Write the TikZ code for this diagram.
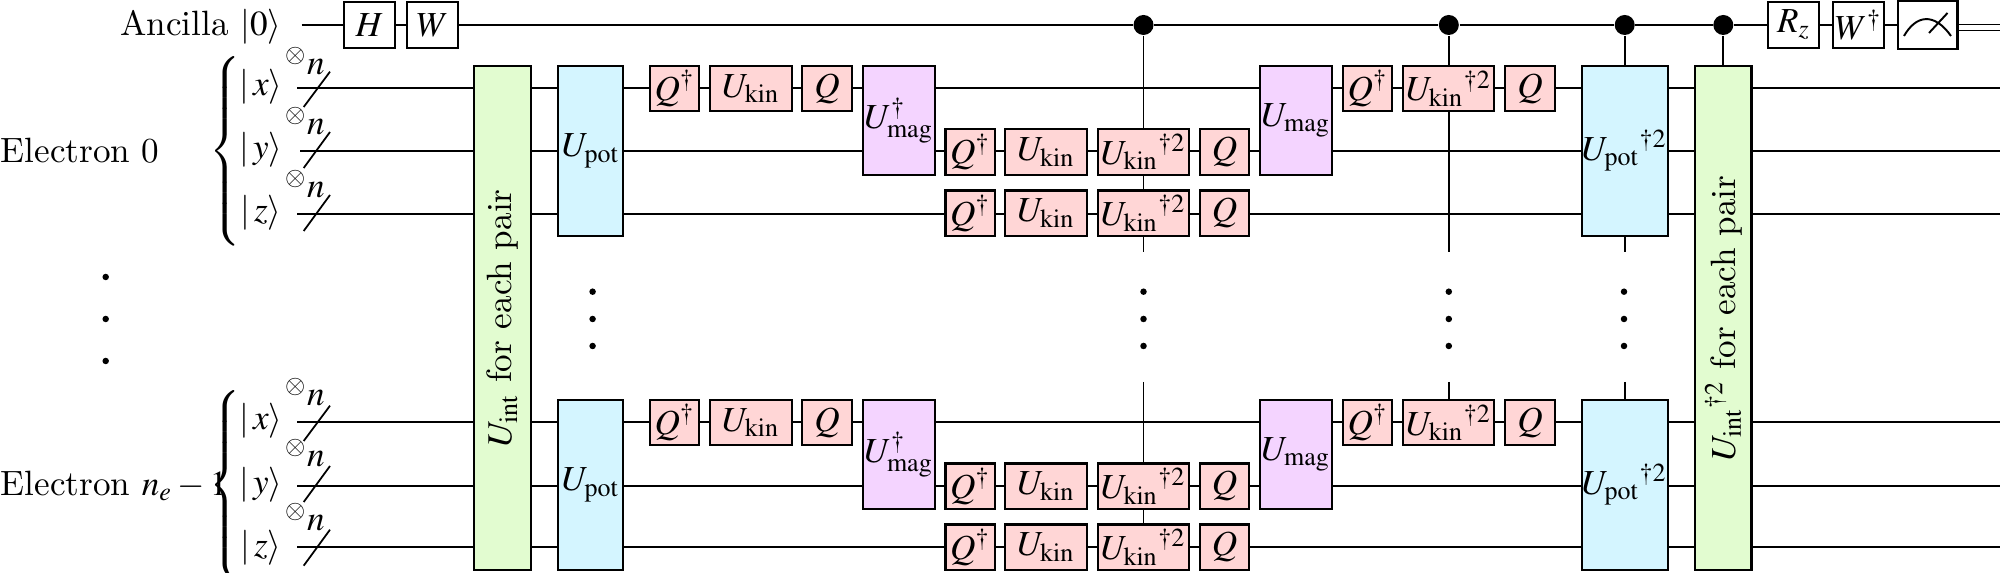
\documentclass[tikz,border=0pt]{standalone}
\usepackage{amsmath}
\usepackage{mathptmx}
\usepackage{tikz}
\usetikzlibrary{backgrounds}
\definecolor{gatered}{HTML}{FFD6D6}
\definecolor{gateblue}{HTML}{D4F5FF}
\definecolor{gatepurple}{HTML}{F4D4FF}
\definecolor{gategreen}{HTML}{E2FCD0}
\tikzset{
  gate/.style={draw=black, line width=0.6pt, inner sep=0pt, minimum height=0.455cm, fill=white},
  small/.style={gate, fill=gatered, minimum width=0.494cm},
  kin/.style={gate, fill=gatered, minimum width=0.818cm},
  kindag/.style={gate, fill=gatered, minimum width=0.91cm},
  mag/.style={gate, fill=gatepurple, minimum width=0.72cm, minimum height=1.09cm},
  pot/.style={gate, fill=gateblue, minimum height=1.70cm},
  pair/.style={gate, fill=gategreen, minimum height=5.04cm, minimum width=0.563cm},
  ctrl/.style={circle, fill=black, inner sep=0pt, minimum size=0.2cm},
  vdot/.style={circle, fill=black, inner sep=0pt, minimum size=0.065cm},
  wire/.style={line width=0.5pt},
  plain/.style={inner sep=0pt}
}
\begin{document}
\begin{tikzpicture}
\useasboundingbox (0,0) rectangle (20,-5.73);
% wire ends
\coordinate (anc0) at (3.016,-0.25);
\coordinate (xa0) at (2.97,-0.88);
\coordinate (xa1) at (20,-0.88);
\coordinate (ya0) at (3.0,-1.51);
\coordinate (ya1) at (20,-1.51);
\coordinate (za0) at (2.97,-2.143);
\coordinate (za1) at (20,-2.143);
\coordinate (xb0) at (2.97,-4.223);
\coordinate (xb1) at (20,-4.223);
\coordinate (yb0) at (2.97,-4.86);
\coordinate (yb1) at (20,-4.86);
\coordinate (zb0) at (2.97,-5.47);
\coordinate (zb1) at (20,-5.47);
% ends of the control lines
\coordinate (enda) at (11.435,-2.52);
\coordinate (endb) at (14.488,-2.52);
\coordinate (endc) at (16.247,-2.52);
\coordinate (topa) at (11.435,-3.82);
\coordinate (topb) at (14.488,-3.82);
\coordinate (topc) at (16.247,-3.82);
\coordinate (cla0) at (19.575,-0.245);
\coordinate (cla1) at (20,-0.245);
\coordinate (clb0) at (19.575,-0.305);
\coordinate (clb1) at (20,-0.305);
% labels left side
\node[plain, anchor=base east] (anc) at (2.82,-0.36) {Ancilla $|0\rangle$};
\node[plain, anchor=base west] (elec0) at (0,-1.623) {Electron 0};
\node[plain, anchor=base west] (elec1) at (0,-4.957) {Electron $n_e-1$};
\node[plain] (brace0) at (2.27,-1.52) {$\left\{\rule[-25pt]{0pt}{50pt}\right.$};
\node[plain] (brace1) at (2.27,-4.86) {$\left\{\rule[-25pt]{0pt}{50pt}\right.$};
% kets
\node[plain, anchor=base] (ketx0) at (2.61,-0.96) {$|\,x\rangle$};
\node[plain, anchor=base] (kety0) at (2.61,-1.59) {$|\,y\rangle$};
\node[plain, anchor=base] (ketz0) at (2.61,-2.22) {$|\,z\rangle$};
\node[plain, anchor=base] (ketx1) at (2.61,-4.30) {$|\,x\rangle$};
\node[plain, anchor=base] (kety1) at (2.61,-4.94) {$|\,y\rangle$};
\node[plain, anchor=base] (ketz1) at (2.61,-5.57) {$|\,z\rangle$};
% register sizes
\node[plain, anchor=base] (regx0) at (3.05,-0.75) {$^{\otimes}n$};
\node[plain, anchor=base] (regy0) at (3.05,-1.35) {$^{\otimes}n$};
\node[plain, anchor=base] (regz0) at (3.05,-1.98) {$^{\otimes}n$};
\node[plain, anchor=base] (regx1) at (3.05,-4.06) {$^{\otimes}n$};
\node[plain, anchor=base] (regy1) at (3.05,-4.67) {$^{\otimes}n$};
\node[plain, anchor=base] (regz1) at (3.05,-5.31) {$^{\otimes}n$};
% ancilla gates
\node[gate, minimum width=0.51cm, minimum height=0.46cm] (h) at (3.695,-0.25) {$H$};
\node[gate, minimum width=0.51cm, minimum height=0.46cm] (w) at (4.325,-0.25) {$W$};
\node[ctrl] (dot0) at (11.435,-0.25) {};
\node[ctrl] (dot1) at (14.488,-0.25) {};
\node[ctrl] (dot2) at (16.247,-0.25) {};
\node[ctrl] (dot3) at (17.233,-0.25) {};
\node[gate, minimum width=0.506cm, minimum height=0.46cm] (rz) at (17.937,-0.25) {$R_z$};
\node[gate, minimum width=0.503cm, minimum height=0.46cm] (wd) at (18.585,-0.25) {$W^\dagger$};
\node[gate, minimum width=0.595cm, minimum height=0.48cm] (meter) at (19.277,-0.25) {};
% big gates
\node[pair] (uint) at (5.025,-3.18) {\rotatebox{90}{$U_{\mathrm{int}}$ for each pair}};
\node[pair] (uintd) at (17.233,-3.18) {\rotatebox{90}{${U_{\mathrm{int}}}^{\dagger 2}$ for each pair}};
\node[pot, minimum width=0.65cm] (pot0) at (5.908,-1.51) {$U_{\mathrm{pot}}$};
\node[pot, minimum width=0.65cm] (pot1) at (5.908,-4.85) {$U_{\mathrm{pot}}$};
\node[pot, minimum width=0.863cm] (potd0) at (16.247,-1.51) {${U_{\mathrm{pot}}}^{\dagger 2}$};
\node[pot, minimum width=0.863cm] (potd1) at (16.247,-4.85) {${U_{\mathrm{pot}}}^{\dagger 2}$};
\node[mag] (magd0) at (8.989,-1.205) {$U^\dagger_{\mathrm{mag}}$};
\node[mag] (magd1) at (8.989,-4.546) {$U^\dagger_{\mathrm{mag}}$};
\node[mag] (mag0) at (12.96,-1.205) {$U_{\mathrm{mag}}$};
\node[mag] (mag1) at (12.96,-4.546) {$U_{\mathrm{mag}}$};
% electron 0
\node[small] (qa0) at (6.747,-0.885) {$Q^\dagger$};
\node[kin] (ka0) at (7.509,-0.885) {$U_{\mathrm{kin}}$};
\node[small] (qb0) at (8.271,-0.885) {$Q$};
\node[small] (qc0) at (9.702,-1.52) {$Q^\dagger$};
\node[kin] (kb0) at (10.463,-1.52) {$U_{\mathrm{kin}}$};
\node[kindag] (kc0) at (11.435,-1.52) {${U_{\mathrm{kin}}}^{\dagger 2}$};
\node[small] (qd0) at (12.245,-1.52) {$Q$};
\node[small] (qe0) at (9.702,-2.133) {$Q^\dagger$};
\node[kin] (kd0) at (10.463,-2.133) {$U_{\mathrm{kin}}$};
\node[kindag] (ke0) at (11.435,-2.133) {${U_{\mathrm{kin}}}^{\dagger 2}$};
\node[small] (qf0) at (12.245,-2.133) {$Q$};
\node[small] (qg0) at (13.677,-0.885) {$Q^\dagger$};
\node[kindag] (kf0) at (14.488,-0.885) {${U_{\mathrm{kin}}}^{\dagger 2}$};
\node[small] (qh0) at (15.301,-0.885) {$Q$};
% electron n_e-1
\node[small] (qa1) at (6.747,-4.227) {$Q^\dagger$};
\node[kin] (ka1) at (7.509,-4.227) {$U_{\mathrm{kin}}$};
\node[small] (qb1) at (8.271,-4.227) {$Q$};
\node[small] (qc1) at (9.702,-4.863) {$Q^\dagger$};
\node[kin] (kb1) at (10.463,-4.863) {$U_{\mathrm{kin}}$};
\node[kindag] (kc1) at (11.435,-4.863) {${U_{\mathrm{kin}}}^{\dagger 2}$};
\node[small] (qd1) at (12.245,-4.863) {$Q$};
\node[small] (qe1) at (9.702,-5.473) {$Q^\dagger$};
\node[kin] (kd1) at (10.463,-5.473) {$U_{\mathrm{kin}}$};
\node[kindag] (ke1) at (11.435,-5.473) {${U_{\mathrm{kin}}}^{\dagger 2}$};
\node[small] (qf1) at (12.245,-5.473) {$Q$};
\node[small] (qg1) at (13.677,-4.227) {$Q^\dagger$};
\node[kindag] (kf1) at (14.488,-4.227) {${U_{\mathrm{kin}}}^{\dagger 2}$};
\node[small] (qh1) at (15.301,-4.227) {$Q$};
% vertical dots
\node[vdot] (va0) at (1.057,-2.77) {};
\node[vdot] (va1) at (1.057,-3.19) {};
\node[vdot] (va2) at (1.057,-3.61) {};
\node[vdot] (vb0) at (5.926,-2.917) {};
\node[vdot] (vb1) at (5.926,-3.19) {};
\node[vdot] (vb2) at (5.926,-3.46) {};
\node[vdot] (vc0) at (11.435,-2.917) {};
\node[vdot] (vc1) at (11.435,-3.19) {};
\node[vdot] (vc2) at (11.435,-3.46) {};
\node[vdot] (vd0) at (14.488,-2.917) {};
\node[vdot] (vd1) at (14.488,-3.19) {};
\node[vdot] (vd2) at (14.488,-3.46) {};
\node[vdot] (ve0) at (16.24,-2.917) {};
\node[vdot] (ve1) at (16.24,-3.19) {};
\node[vdot] (ve2) at (16.24,-3.46) {};
% meter dial
\draw[line width=0.55pt] (19.04,-0.36) .. controls (19.16,-0.15) and (19.34,-0.12) .. (19.51,-0.36);
\draw[line width=0.55pt] (19.29,-0.33) -- (19.475,-0.13);
% register slashes
\draw[wire] (3.037,-1.07) -- (3.30,-0.717);
\draw[wire] (3.037,-1.68) -- (3.30,-1.32);
\draw[wire] (3.037,-2.31) -- (3.30,-1.95);
\draw[wire] (3.037,-4.41) -- (3.30,-4.057);
\draw[wire] (3.037,-5.02) -- (3.30,-4.66);
\draw[wire] (3.037,-5.657) -- (3.30,-5.297);
\begin{scope}[on background layer]
% draws wires
\draw[wire] (anc0) -- (h) -- (w) -- (dot0) -- (dot1) -- (dot2) -- (dot3) -- (rz) -- (wd) -- (meter);
\draw[wire] (xa0) to (xa1);
\draw[wire] (ya0) to (ya1);
\draw[wire] (za0) to (za1);
\draw[wire] (xb0) to (xb1);
\draw[wire] (yb0) to (yb1);
\draw[wire] (zb0) to (zb1);
\draw[wire] (cla0) to (cla1);
\draw[wire] (clb0) to (clb1);
% draws control lines
\draw[wire] (dot0) to (enda);
\draw[wire] (topa) to (ke1);
\draw[wire] (dot1) to (endb);
\draw[wire] (topb) to (kf1);
\draw[wire] (dot2) to (potd0);
\draw[wire] (potd0) to (endc);
\draw[wire] (topc) to (potd1);
\draw[wire] (dot3) to (uintd);
\end{scope}
\end{tikzpicture}
\end{document}
